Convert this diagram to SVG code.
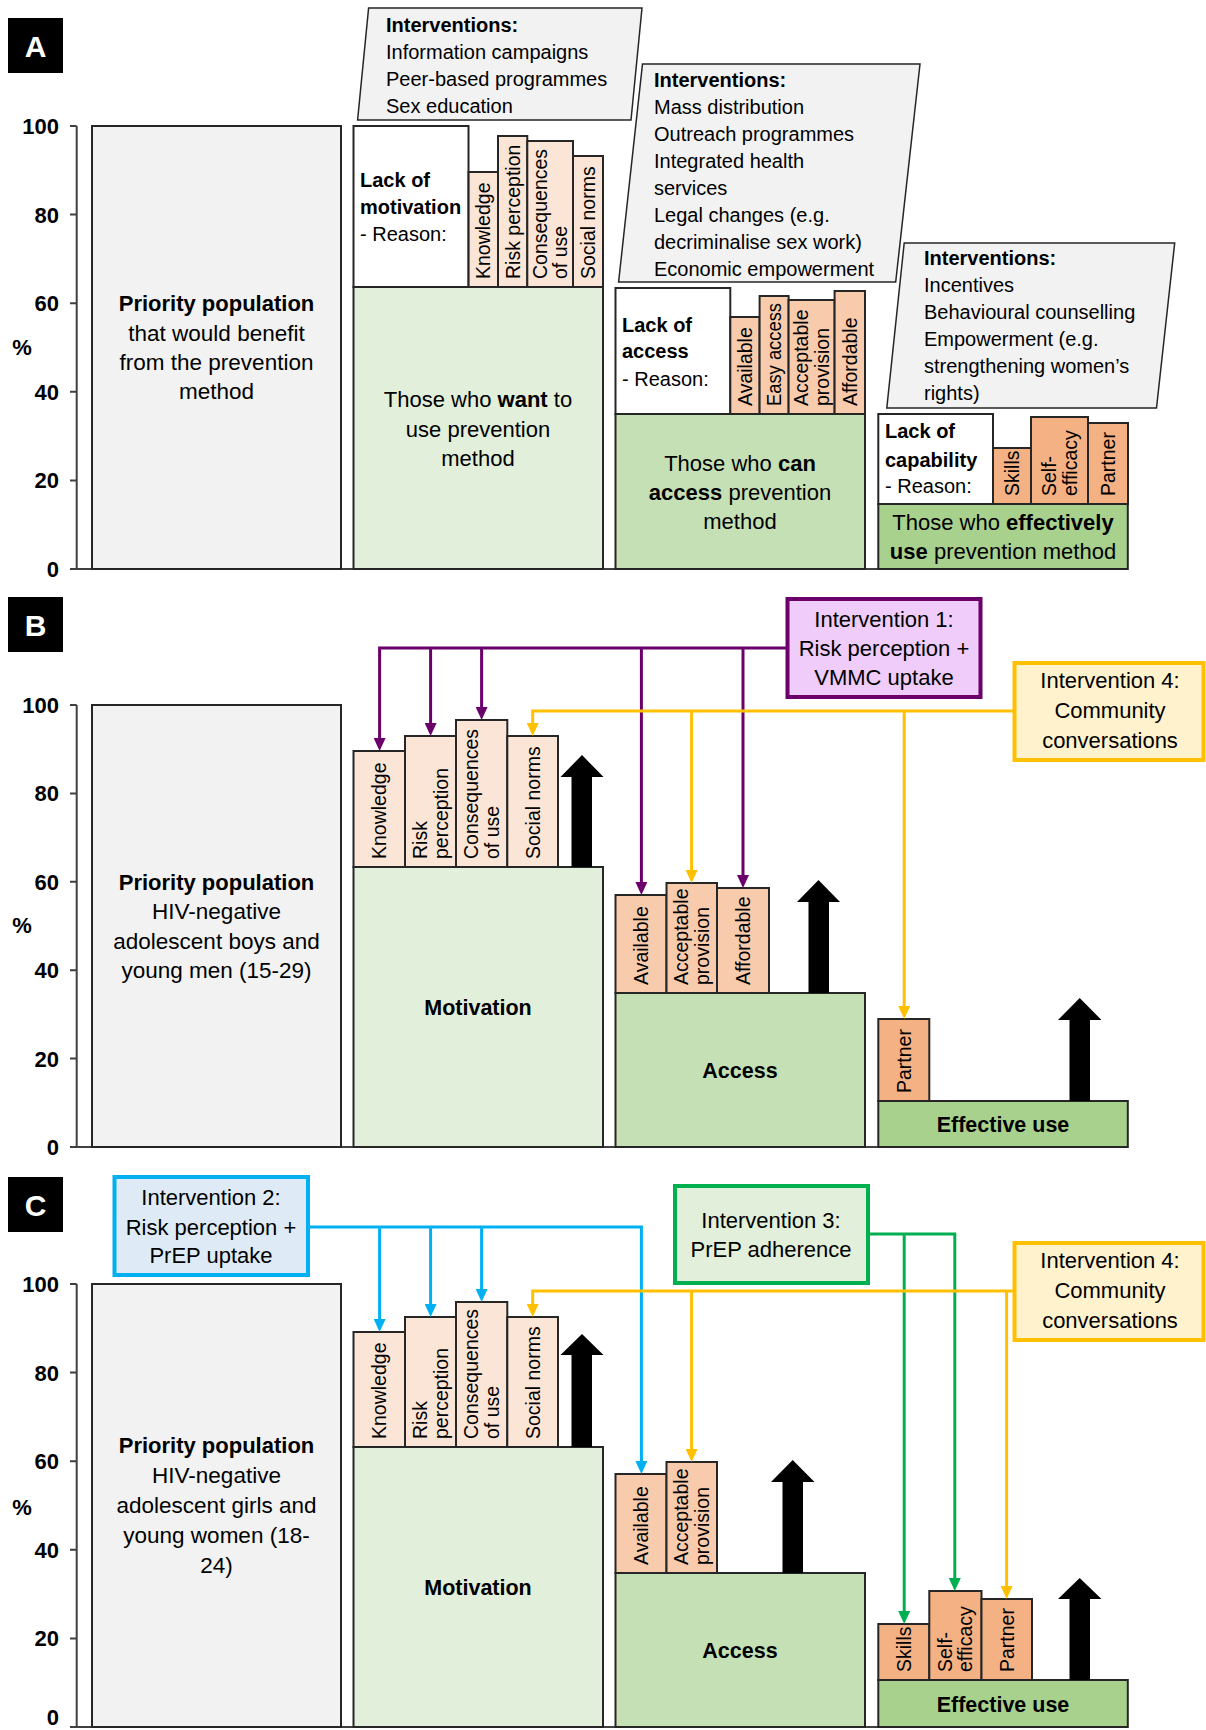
<svg xmlns="http://www.w3.org/2000/svg" width="1206" height="1730" viewBox="0 0 1206 1730">
<defs>
<style>
text{font-family:"Liberation Sans",Arial,sans-serif;fill:#000}
.ax{stroke:#404040;stroke-width:2;fill:none}
.bx{stroke:#262626;stroke-width:2}
.pri{fill:#F2F2F2}
.g1{fill:#E2EFDA}.g2{fill:#C5E0B4}.g3{fill:#A9D18E}
.b1{fill:#FBE5D6}.b2{fill:#F8CBAD}.b3{fill:#F4B183}
.wh{fill:#FFFFFF}
.par{fill:#F2F2F2;stroke:#262626;stroke-width:1.5}
.tick{font-size:22px;font-weight:bold;text-anchor:end}
.pct{font-size:22px;font-weight:bold;text-anchor:middle}
.lab{font-size:30px;font-weight:bold;fill:#FFFFFF;text-anchor:middle}
.vl{font-size:19.5px}
.iv{font-size:20px}
.lk{font-size:20px}
.mid{font-size:22px;text-anchor:middle}
.pp{font-size:22.5px;text-anchor:middle}
.ttl{font-size:21.5px;font-weight:bold;text-anchor:middle}
.b{font-weight:bold}
.arr{fill:#000}
.cp{stroke:#6B006B;stroke-width:3;fill:none}
.co{stroke:#FFC000;stroke-width:3;fill:none}
.cb{stroke:#00B0F0;stroke-width:3;fill:none}
.cg{stroke:#00B050;stroke-width:3;fill:none}
.i1{fill:#EFCCFA;stroke:#6B006B;stroke-width:4}
.i2{fill:#DEEBF7;stroke:#00B0F0;stroke-width:4}
.i3{fill:#E2EFDA;stroke:#00B050;stroke-width:4}
.i4{fill:#FFF2CC;stroke:#FFC000;stroke-width:4}
</style>
<marker id="mp" viewBox="0 0 13 12" refX="7" refY="6" markerWidth="13" markerHeight="12" markerUnits="userSpaceOnUse" orient="auto"><path d="M0,0L13,6L0,12z" fill="#6B006B"/></marker>
<marker id="mo" viewBox="0 0 13 12" refX="7" refY="6" markerWidth="13" markerHeight="12" markerUnits="userSpaceOnUse" orient="auto"><path d="M0,0L13,6L0,12z" fill="#FFC000"/></marker>
<marker id="mb" viewBox="0 0 13 12" refX="7" refY="6" markerWidth="13" markerHeight="12" markerUnits="userSpaceOnUse" orient="auto"><path d="M0,0L13,6L0,12z" fill="#00B0F0"/></marker>
<marker id="mg" viewBox="0 0 13 12" refX="7" refY="6" markerWidth="13" markerHeight="12" markerUnits="userSpaceOnUse" orient="auto"><path d="M0,0L13,6L0,12z" fill="#00B050"/></marker>
</defs>
<rect width="1206" height="1730" fill="#FFFFFF"/>

<!-- ================= PANEL A ================= -->
<g id="A-label"><rect x="8" y="18" width="55" height="55" fill="#000"/><text class="lab" x="35.5" y="56.5">A</text></g>
<g id="A-axis">
<path class="ax" d="M76.7,126V569H1128M70,126H76.7M70,214.6H76.7M70,303.2H76.7M70,391.8H76.7M70,480.4H76.7M70,569H76.7"/>
<text class="tick" x="59" y="134">100</text><text class="tick" x="59" y="222.6">80</text><text class="tick" x="59" y="311.2">60</text><text class="tick" x="59" y="399.8">40</text><text class="tick" x="59" y="488.4">20</text><text class="tick" x="59" y="577">0</text>
<text class="pct" x="22" y="355">%</text>
</g>
<g id="A-priority">
<rect class="pri bx" x="92" y="126" width="249" height="443"/>
<text class="pp" x="216.5" y="311"><tspan class="b" font-size="22">Priority population</tspan></text>
<text class="pp" x="216.5" y="340.5">that would benefit</text>
<text class="pp" x="216.5" y="370">from the prevention</text>
<text class="pp" x="216.5" y="399">method</text>
</g>
<g id="A-motivation">
<rect class="g1 bx" x="353.5" y="287" width="249.5" height="282"/>
<rect class="wh bx" x="353.5" y="126" width="115" height="161"/>
<rect class="b1 bx" x="468.6" y="172" width="29.4" height="115"/>
<rect class="b1 bx" x="498" y="136" width="29.3" height="151"/>
<rect class="b1 bx" x="527.3" y="141" width="45.7" height="146"/>
<rect class="b1 bx" x="573" y="156" width="30" height="131"/>
<text class="lk b" x="360" y="187">Lack of</text>
<text class="lk b" x="360" y="214">motivation</text>
<text class="lk" x="360" y="241">- Reason:</text>
<text class="vl" transform="translate(490.3,279) rotate(-90)">Knowledge</text>
<text class="vl" transform="translate(519.7,279) rotate(-90)">Risk perception</text>
<text class="vl" transform="translate(546.7,279) rotate(-90)"><tspan x="0">Consequences</tspan><tspan x="0" dy="20.5">of use</tspan></text>
<text class="vl" transform="translate(595,279) rotate(-90)">Social norms</text>
<text class="mid" x="478" y="407">Those who <tspan class="b">want</tspan> to</text>
<text class="mid" x="478" y="437">use prevention</text>
<text class="mid" x="478" y="466">method</text>
</g>
<g id="A-int1">
<polygon class="par" points="368.6,8 642,8 631,120 357.6,120"/>
<text class="iv b" x="386" y="32">Interventions:</text>
<text class="iv" x="386" y="59">Information campaigns</text>
<text class="iv" x="386" y="86">Peer-based programmes</text>
<text class="iv" x="386" y="113">Sex education</text>
</g>
<g id="A-access">
<rect class="g2 bx" x="615.5" y="414" width="249.5" height="155"/>
<rect class="wh bx" x="615.5" y="288" width="114.8" height="126"/>
<rect class="b2 bx" x="730.3" y="317" width="29.3" height="97"/>
<rect class="b2 bx" x="759.6" y="296" width="29" height="118"/>
<rect class="b2 bx" x="788.6" y="300" width="46" height="114"/>
<rect class="b2 bx" x="834.6" y="291" width="30.4" height="123"/>
<text class="lk b" x="622" y="332">Lack of</text>
<text class="lk b" x="622" y="358">access</text>
<text class="lk" x="622" y="386">- Reason:</text>
<text class="vl" transform="translate(752,406) rotate(-90)">Available</text>
<text class="vl" transform="translate(781.1,406) rotate(-90)" textLength="103" lengthAdjust="spacingAndGlyphs">Easy access</text>
<text class="vl" transform="translate(808.1,406) rotate(-90)"><tspan x="0">Acceptable</tspan><tspan x="0" dy="20.5">provision</tspan></text>
<text class="vl" transform="translate(856.8,406) rotate(-90)">Affordable</text>
<text class="mid" x="740" y="471">Those who <tspan class="b">can</tspan></text>
<text class="mid" x="740" y="500"><tspan class="b">access</tspan> prevention</text>
<text class="mid" x="740" y="529">method</text>
</g>
<g id="A-int2">
<polygon class="par" points="642.5,64 920,64 895.7,282 618.6,282"/>
<text class="iv b" x="654" y="87">Interventions:</text>
<text class="iv" x="654" y="114">Mass distribution</text>
<text class="iv" x="654" y="141">Outreach programmes</text>
<text class="iv" x="654" y="168">Integrated health</text>
<text class="iv" x="654" y="195">services</text>
<text class="iv" x="654" y="222">Legal changes (e.g.</text>
<text class="iv" x="654" y="249">decriminalise sex work)</text>
<text class="iv" x="654" y="276">Economic empowerment</text>
</g>
<g id="A-capability">
<rect class="g3 bx" x="878.3" y="504" width="249.5" height="65"/>
<rect class="wh bx" x="878.3" y="414" width="114.7" height="90"/>
<rect class="b3 bx" x="993" y="448" width="38" height="56"/>
<rect class="b3 bx" x="1031" y="417" width="57" height="87"/>
<rect class="b3 bx" x="1088" y="423" width="40" height="81"/>
<text class="lk b" x="885" y="438">Lack of</text>
<text class="lk b" x="885" y="467">capability</text>
<text class="lk" x="885" y="493">- Reason:</text>
<text class="vl" transform="translate(1019,496) rotate(-90)">Skills</text>
<text class="vl" transform="translate(1056,496) rotate(-90)"><tspan x="0">Self-</tspan><tspan x="0" dy="20.5">efficacy</tspan></text>
<text class="vl" transform="translate(1115,496) rotate(-90)">Partner</text>
<text class="mid" x="1003" y="530">Those who <tspan class="b">effectively</tspan></text>
<text class="mid" x="1003" y="559"><tspan class="b">use</tspan> prevention method</text>
</g>
<g id="A-int3">
<polygon class="par" points="904.2,243 1174.7,243 1156.5,408 886.8,408"/>
<text class="iv b" x="924" y="265">Interventions:</text>
<text class="iv" x="924" y="292">Incentives</text>
<text class="iv" x="924" y="319">Behavioural counselling</text>
<text class="iv" x="924" y="346">Empowerment (e.g.</text>
<text class="iv" x="924" y="373">strengthening women’s</text>
<text class="iv" x="924" y="400">rights)</text>
</g>

<!-- ================= PANEL B ================= -->
<g id="B-label"><rect x="8" y="597" width="55" height="55" fill="#000"/><text class="lab" x="35.5" y="636">B</text></g>
<g id="B-axis">
<path class="ax" d="M76.7,705V1147H1128M70,705H76.7M70,793.4H76.7M70,881.8H76.7M70,970.2H76.7M70,1058.6H76.7M70,1147H76.7"/>
<text class="tick" x="59" y="713">100</text><text class="tick" x="59" y="801.4">80</text><text class="tick" x="59" y="889.8">60</text><text class="tick" x="59" y="978.2">40</text><text class="tick" x="59" y="1066.6">20</text><text class="tick" x="59" y="1155">0</text>
<text class="pct" x="22" y="933">%</text>
</g>
<g id="B-priority">
<rect class="pri bx" x="92" y="705" width="249" height="442"/>
<text class="pp" x="216.5" y="889.5"><tspan class="b" font-size="22">Priority population</tspan></text>
<text class="pp" x="216.5" y="919">HIV-negative</text>
<text class="pp" x="216.5" y="948.5">adolescent boys and</text>
<text class="pp" x="216.5" y="978">young men (15-29)</text>
</g>
<g id="B-motivation">
<rect class="g1 bx" x="353.5" y="867" width="249.5" height="280"/>
<rect class="b1 bx" x="353.5" y="751" width="51.5" height="116"/>
<rect class="b1 bx" x="405" y="736" width="51" height="131"/>
<rect class="b1 bx" x="456" y="720" width="51.3" height="147"/>
<rect class="b1 bx" x="507.3" y="736" width="50.7" height="131"/>
<polygon class="arr" points="571.5,867 571.5,777 560.5,777 582,755 603.5,777 592,777 592,867"/>
<text class="vl" transform="translate(386.2,859) rotate(-90)">Knowledge</text>
<text class="vl" transform="translate(427,859) rotate(-90)"><tspan x="0">Risk</tspan><tspan x="0" dy="20.5">perception</tspan></text>
<text class="vl" transform="translate(478.2,859) rotate(-90)"><tspan x="0">Consequences</tspan><tspan x="0" dy="20.5">of use</tspan></text>
<text class="vl" transform="translate(539.7,859) rotate(-90)">Social norms</text>
<text class="ttl" x="478" y="1015">Motivation</text>
</g>
<g id="B-access">
<rect class="g2 bx" x="615.5" y="993" width="249.5" height="154"/>
<rect class="b2 bx" x="615.5" y="895" width="51" height="98"/>
<rect class="b2 bx" x="666.5" y="883" width="50.5" height="110"/>
<rect class="b2 bx" x="717" y="888" width="52" height="105"/>
<polygon class="arr" points="808.5,993 808.5,902 797,902 818.5,880 840,902 829,902 829,993"/>
<text class="vl" transform="translate(647.7,985) rotate(-90)">Available</text>
<text class="vl" transform="translate(688.2,985) rotate(-90)"><tspan x="0">Acceptable</tspan><tspan x="0" dy="20.5">provision</tspan></text>
<text class="vl" transform="translate(750,985) rotate(-90)">Affordable</text>
<text class="ttl" x="740" y="1078">Access</text>
</g>
<g id="B-effective">
<rect class="g3 bx" x="878.3" y="1101" width="249.5" height="46"/>
<rect class="b3 bx" x="878.3" y="1019" width="51" height="82"/>
<polygon class="arr" points="1069.5,1101 1069.5,1020 1058,1020 1079.7,998 1101.5,1020 1090,1020 1090,1101"/>
<text class="vl" transform="translate(910.7,1093) rotate(-90)">Partner</text>
<text class="ttl" x="1003" y="1132">Effective use</text>
</g>

<!-- ================= PANEL C ================= -->
<g id="C-label"><rect x="8" y="1177" width="55" height="55" fill="#000"/><text class="lab" x="35.5" y="1216">C</text></g>
<g id="C-axis">
<path class="ax" d="M76.7,1284V1727H1128M70,1284H76.7M70,1372.6H76.7M70,1461.2H76.7M70,1549.8H76.7M70,1638.4H76.7M70,1727H76.7"/>
<text class="tick" x="59" y="1292">100</text><text class="tick" x="59" y="1380.6">80</text><text class="tick" x="59" y="1469.2">60</text><text class="tick" x="59" y="1557.8">40</text><text class="tick" x="59" y="1646.4">20</text><text class="tick" x="59" y="1724.5">0</text>
<text class="pct" x="22" y="1515">%</text>
</g>
<g id="C-priority">
<rect class="pri bx" x="92" y="1284" width="249" height="443"/>
<text class="pp" x="216.5" y="1453"><tspan class="b" font-size="22">Priority population</tspan></text>
<text class="pp" x="216.5" y="1483">HIV-negative</text>
<text class="pp" x="216.5" y="1513">adolescent girls and</text>
<text class="pp" x="216.5" y="1543">young women (18-</text>
<text class="pp" x="216.5" y="1573">24)</text>
</g>
<g id="C-motivation">
<rect class="g1 bx" x="353.5" y="1447" width="249.5" height="280"/>
<rect class="b1 bx" x="353.5" y="1332" width="51.5" height="115"/>
<rect class="b1 bx" x="405" y="1317" width="51" height="130"/>
<rect class="b1 bx" x="456" y="1302" width="51.3" height="145"/>
<rect class="b1 bx" x="507.3" y="1317" width="50.7" height="130"/>
<polygon class="arr" points="571.5,1447 571.5,1355 560.5,1355 582,1334 603.5,1355 592,1355 592,1447"/>
<text class="vl" transform="translate(386.2,1439) rotate(-90)">Knowledge</text>
<text class="vl" transform="translate(427,1439) rotate(-90)"><tspan x="0">Risk</tspan><tspan x="0" dy="20.5">perception</tspan></text>
<text class="vl" transform="translate(478.2,1439) rotate(-90)"><tspan x="0">Consequences</tspan><tspan x="0" dy="20.5">of use</tspan></text>
<text class="vl" transform="translate(539.7,1439) rotate(-90)">Social norms</text>
<text class="ttl" x="478" y="1595">Motivation</text>
</g>
<g id="C-access">
<rect class="g2 bx" x="615.5" y="1573" width="249.5" height="154"/>
<rect class="b2 bx" x="615.5" y="1474" width="51" height="99"/>
<rect class="b2 bx" x="666.5" y="1462" width="50.5" height="111"/>
<polygon class="arr" points="782.5,1573 782.5,1482 771,1482 792.7,1460 814.5,1482 803,1482 803,1573"/>
<text class="vl" transform="translate(647.7,1565) rotate(-90)">Available</text>
<text class="vl" transform="translate(688.2,1565) rotate(-90)"><tspan x="0">Acceptable</tspan><tspan x="0" dy="20.5">provision</tspan></text>
<text class="ttl" x="740" y="1658">Access</text>
</g>
<g id="C-effective">
<rect class="g3 bx" x="878.3" y="1680" width="249.5" height="47"/>
<rect class="b3 bx" x="878.3" y="1624" width="51" height="56"/>
<rect class="b3 bx" x="929.3" y="1591" width="52.2" height="89"/>
<rect class="b3 bx" x="981.5" y="1599" width="50.5" height="81"/>
<polygon class="arr" points="1069.5,1680 1069.5,1599 1058,1599 1079.7,1578 1101.5,1599 1090,1599 1090,1680"/>
<text class="vl" transform="translate(910.7,1672) rotate(-90)">Skills</text>
<text class="vl" transform="translate(951.9,1672) rotate(-90)"><tspan x="0">Self-</tspan><tspan x="0" dy="20.5">efficacy</tspan></text>
<text class="vl" transform="translate(1013.8,1672) rotate(-90)">Partner</text>
<text class="ttl" x="1003" y="1712">Effective use</text>
</g>

<!-- ================= CONNECTORS ================= -->
<g id="connectors">
<path class="cp" d="M787,648H379.6V745" marker-end="url(#mp)"/>
<path class="cp" d="M430.6,648V730" marker-end="url(#mp)"/>
<path class="cp" d="M481.6,648V714" marker-end="url(#mp)"/>
<path class="cp" d="M641.4,648V889" marker-end="url(#mp)"/>
<path class="cp" d="M743,648V882" marker-end="url(#mp)"/>
<path class="co" d="M1014,711H532.7V730" marker-end="url(#mo)"/>
<path class="co" d="M691.6,711V877" marker-end="url(#mo)"/>
<path class="co" d="M904.2,711V1013" marker-end="url(#mo)"/>

<path class="cb" d="M308,1227H641.4V1468" marker-end="url(#mb)"/>
<path class="cb" d="M379.6,1227V1326" marker-end="url(#mb)"/>
<path class="cb" d="M430.6,1227V1311" marker-end="url(#mb)"/>
<path class="cb" d="M481.6,1227V1296" marker-end="url(#mb)"/>
<path class="cg" d="M868,1234H954.8V1585" marker-end="url(#mg)"/>
<path class="cg" d="M904.2,1234V1618" marker-end="url(#mg)"/>
<path class="co" d="M1014,1291H532.7V1311" marker-end="url(#mo)"/>
<path class="co" d="M691.6,1291V1456" marker-end="url(#mo)"/>
<path class="co" d="M1006.6,1291V1593" marker-end="url(#mo)"/>
</g>

<!-- ================= INTERVENTION BOXES ================= -->
<g id="int1">
<rect class="i1" x="787.5" y="599" width="193" height="98"/>
<text class="mid" x="884" y="627">Intervention 1:</text>
<text class="mid" x="884" y="656">Risk perception +</text>
<text class="mid" x="884" y="685">VMMC uptake</text>
</g>
<g id="int4-B">
<rect class="i4" x="1014.5" y="663" width="189" height="97"/>
<text class="mid" x="1110" y="688">Intervention 4:</text>
<text class="mid" x="1110" y="718">Community</text>
<text class="mid" x="1110" y="748">conversations</text>
</g>
<g id="int2">
<rect class="i2" x="114.5" y="1177" width="193.5" height="98"/>
<text class="mid" x="211" y="1205">Intervention 2:</text>
<text class="mid" x="211" y="1235">Risk perception +</text>
<text class="mid" x="211" y="1263">PrEP uptake</text>
</g>
<g id="int3">
<rect class="i3" x="675" y="1186" width="193" height="97"/>
<text class="mid" x="771" y="1228">Intervention 3:</text>
<text class="mid" x="771" y="1257">PrEP adherence</text>
</g>
<g id="int4-C">
<rect class="i4" x="1014.5" y="1243" width="189" height="97"/>
<text class="mid" x="1110" y="1268">Intervention 4:</text>
<text class="mid" x="1110" y="1298">Community</text>
<text class="mid" x="1110" y="1328">conversations</text>
</g>
</svg>
